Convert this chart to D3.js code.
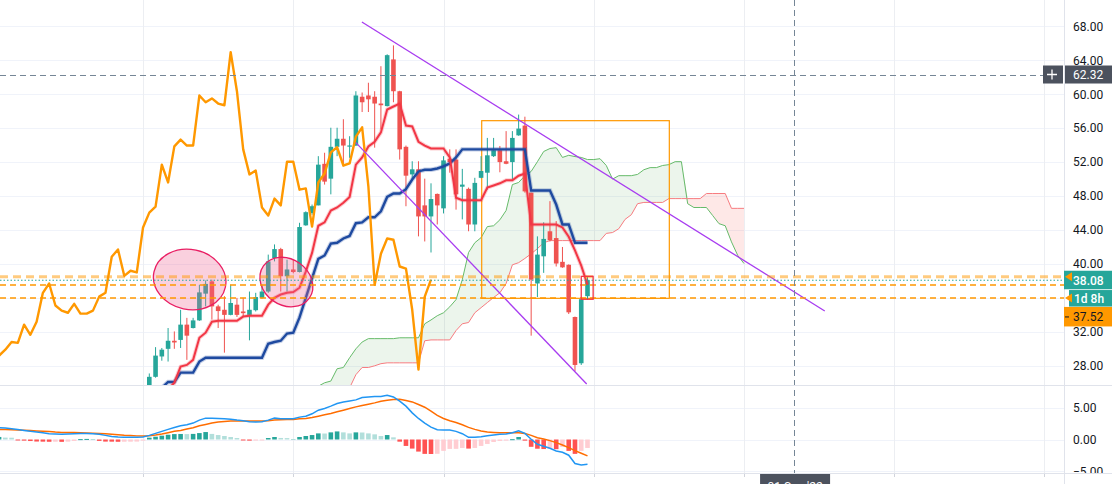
<!DOCTYPE html>
<html>
<head>
<meta charset="UTF-8" />
<title>ichimoku</title>
<style>
  body { margin: 0; padding: 0; background: #ffffff; overflow: hidden; }
  svg { display: block; font-family: Roboto, 'Liberation Sans', sans-serif; }
</style>
</head>
<body>
<div class="chart"></div>
<script src="https://cdnjs.cloudflare.com/ajax/libs/d3/7.8.5/d3.min.js"></script>
<script>
// candles, one per bar starting at bar 0
const opens = [25.2, 26.7, 29.1, 30.0, 30.95, 31.05, 32.85, 32.45, 33.35, 36.5,
  37.95, 35.0, 34.6, 34.0, 35.2, 34.4, 34.0, 34.55, 36.0, 36.75,
  40.7, 41.75, 38.55, 39.35, 39.05, 44.55, 46.0, 46.9, 51.8, 50.05,
  53.8, 54.75, 53.88, 53.95, 59.7, 59.85, 59.7, 58.9, 58.6, 64.1,
  60.35, 53.8, 50.55, 51.15, 46.9, 45.6, 48.25, 46.55, 52.4, 52.3,
  49.1, 48.85, 44.65, 50.15, 50.75, 52.7, 53.4, 52.1, 52.0, 55.15,
  56.3, 48.4, 37.7, 40.9, 43.85, 43.05, 40.25, 39.9, 33.75, 28.3, 36.2]
const highs = [27.1, 30.2, 30.1, 32.45, 32.05, 34.6, 33.65, 33.65, 37.55, 38.05,
  38.15, 35.2, 36.2, 37.55, 36.0, 36.0, 36.75, 36.6, 37.55, 41.1,
  42.3, 41.9, 40.5, 40.5, 44.85, 46.2, 47.0, 52.7, 53.1, 56.05,
  56.05, 57.05, 55.05, 60.35, 60.2, 61.35, 60.35, 63.3, 64.7, 65.75,
  60.4, 53.95, 52.1, 52.1, 50.05, 49.5, 48.3, 52.7, 53.5, 53.5,
  51.2, 49.0, 50.15, 52.7, 54.85, 54.85, 53.9, 55.65, 55.65, 57.6,
  57.35, 48.4, 43.25, 44.9, 47.4, 45.05, 42.0, 39.95, 33.8, 35.9, 38.55]
const lows = [24.8, 26.6, 28.6, 28.5, 30.0, 30.1, 28.7, 32.4, 33.3, 35.0,
  33.45, 32.45, 29.55, 33.95, 33.75, 33.75, 31.0, 34.4, 35.9, 36.6,
  40.3, 36.75, 36.75, 38.9, 39.0, 44.5, 45.8, 46.9, 49.35, 48.2,
  52.7, 51.5, 52.5, 53.9, 57.9, 57.9, 53.7, 55.85, 58.55, 59.05,
  52.3, 46.8, 49.95, 43.25, 42.65, 41.35, 44.65, 45.95, 50.75, 46.4,
  45.25, 43.85, 43.85, 50.1, 48.75, 52.6, 50.8, 51.75, 49.95, 55.1,
  48.4, 31.55, 36.1, 38.95, 42.65, 39.7, 39.55, 34.1, 27.35, 28.1, 35.8]
const closes = [26.7, 29.2, 29.9, 30.95, 30.75, 32.85, 31.55, 33.35, 36.65, 37.65,
  35.0, 34.45, 34.0, 35.4, 34.0, 34.2, 34.6, 36.1, 36.75, 40.3,
  41.75, 38.55, 39.35, 39.05, 44.35, 46.1, 46.8, 51.7, 49.7, 53.8,
  54.75, 53.95, 53.96, 59.85, 59.05, 59.4, 58.9, 58.7, 64.6, 60.35,
  53.5, 50.4, 51.15, 45.6, 45.6, 47.65, 46.9, 52.2, 52.0, 48.2,
  49.35, 44.65, 49.55, 50.95, 52.8, 53.4, 52.0, 51.8, 54.85, 55.95,
  48.55, 38.15, 41.1, 42.95, 42.8, 40.05, 39.6, 34.3, 28.1, 35.85, 38.08]

// ichimoku base / conversion lines, bar 0..70
const kijun = [null, null, 25.4, 26.1, 26.1, 27.2, 27.2, 27.2, 28.5, 28.95,
  28.95, 28.95, 28.95, 28.95, 28.95, 28.95, 28.95, 28.95, 28.95, 30.6,
  30.8, 30.95, 31.8, 31.9, 33.7, 36.0, 38.3, 40.6, 41.0, 42.4,
  42.5, 43.0, 43.3, 44.8, 44.9, 45.5, 45.5, 46.2, 47.9, 48.3,
  48.3, 48.8, 49.95, 50.9, 51.1, 51.1, 51.25, 51.5, 51.85, 52.55,
  53.5, 53.5, 53.5, 53.5, 53.5, 53.5, 53.5, 53.5, 53.5, 53.5,
  53.5, 48.65, 48.65, 48.65, 48.65, 47.0, 44.65, 44.65, 42.5, 42.5, 42.5]
const tenkan = [null, null, null, 25.2, 26.0, 27.9, 28.1, 28.7, 31.3, 31.9,
  33.2, 33.3, 33.3, 33.3, 33.3, 33.8, 33.9, 33.9, 33.9, 35.2,
  36.0, 36.4, 36.6, 36.7, 37.2, 39.1, 41.3, 44.5, 44.9, 46.3,
  46.65, 47.2, 47.9, 51.7, 52.55, 53.85, 54.4, 55.5, 58.2, 58.55,
  58.9, 56.3, 56.2, 54.4, 53.95, 53.6, 53.6, 53.6, 52.55, 47.8,
  47.5, 47.5, 47.5, 47.5, 49.0, 49.25, 49.5, 49.85, 49.85, 50.4,
  50.65, 44.65, 44.65, 44.65, 44.65, 44.65, 44.3, 43.2, 41.6, 39.8, 37.55]

// leading spans, plotted from bar 27 to bar 95
const spanStart = 27
const spanA = [25.6, 26.0, 26.2, 27.65, 27.8, 28.95, 30.0, 30.8, 31.2, 31.2,
  31.2, 31.2, 31.2, 31.3, 31.3, 31.3, 31.3, 32.95, 33.4, 33.9,
  34.25, 34.95, 35.8, 38.15, 41.35, 42.5, 43.1, 44.4, 44.5, 45.2,
  46.3, 49.35, 49.6, 50.4, 50.9, 52.05, 53.25, 53.6, 53.7, 52.55,
  52.8, 52.65, 52.55, 52.3, 52.3, 52.4, 51.6, 50.0, 50.4, 50.4,
  50.4, 50.55, 51.1, 51.35, 51.35, 51.6, 51.7, 52.05, 52.05, 47.1,
  46.65, 46.65, 46.65, 45.7, 44.75, 44.5, 42.6, 41.0, 40.05]
const spanB = [24.9, 24.9, 24.9, 24.9, 24.9, 25.4, 26.95, 27.8, 27.8, 28.0,
  28.25, 28.35, 28.35, 28.35, 28.35, 28.35, 28.35, 30.95, 31.05, 31.05,
  31.05, 31.05, 32.15, 32.95, 33.1, 34.25, 34.85, 35.45, 36.05, 36.6,
  37.7, 39.9, 40.15, 40.65, 41.2, 41.8, 42.5, 42.75, 42.75, 42.75,
  42.75, 42.75, 42.75, 42.75, 42.75, 42.75, 43.6, 43.7, 44.15, 45.25,
  45.8, 47.1, 47.25, 47.25, 47.25, 47.25, 47.7, 47.7, 47.7, 47.7,
  47.7, 47.7, 48.3, 48.3, 48.3, 48.3, 46.55, 46.55, 46.55]

// orange comparison line, bar -24..45
const overlayStart = -24
const overlay = [29.2, 29.9, 30.8, 30.7, 32.85, 31.65, 33.2, 36.6, 37.7, 35.1,
  34.5, 34.25, 35.3, 34.15, 34.15, 34.5, 36.15, 36.6, 40.85, 41.7,
  38.6, 39.2, 39.0, 44.3, 46.05, 46.75, 51.7, 49.6, 53.85, 54.65,
  53.95, 53.95, 59.85, 59.05, 59.5, 58.9, 58.7, 64.95, 60.35, 53.5,
  50.55, 51.0, 46.65, 45.7, 47.7, 46.9, 52.05, 52.05, 48.75, 48.9,
  44.4, 49.6, 50.65, 53.15, 53.75, 51.6, 51.85, 55.0, 56.1, 49.1,
  37.55, 41.2, 43.0, 42.85, 39.7, 39.45, 34.6, 27.55, 36.15, 38.15]

// MACD pane, bar -24..70
const macdStart = -24
const macdHist = [0.40, 0.30, 0.28, -0.08, -0.18, -0.24, -0.32, -0.34, -0.36, -0.35,
  -0.37, -0.34, -0.23, 0.06, 0.09, 0.07, -0.22, -0.33, -0.34, -0.36,
  -0.35, -0.34, -0.33, -0.18, 0.29, 0.44, 0.60, 0.75, 0.85, 0.87,
  0.85, 0.88, 1.01, 1.17, 0.88, 0.70, 0.55, 0.39, 0.23, -0.08,
  -0.18, -0.17, -0.16, 0.23, 0.39, 0.24, 0.22, 0.08, 0.39, 0.55,
  0.70, 0.96, 0.94, 1.12, 1.27, 1.12, 0.96, 1.12, 1.10, 0.96,
  0.81, 0.55, 0.70, 0.34, -0.34, -1.01, -1.43, -1.90, -2.26, -2.28,
  -2.25, -1.79, -1.48, -1.47, -1.33, -1.43, -1.33, -1.01, -0.70, -0.39,
  -0.23, -0.18, 0.05, 0.39, -0.18, -1.15, -1.45, -1.50, -1.47, -1.52,
  -1.17, -1.79, -2.26, -1.79, -1.33]
const macdLine = [1.85, 1.80, 1.69, 1.59, 1.43, 1.28, 1.17, 1.07, 0.91, 0.86,
  0.81, 0.86, 0.91, 0.96, 0.96, 0.91, 0.81, 0.65, 0.49, 0.39,
  0.34, 0.34, 0.34, 0.39, 0.65, 0.96, 1.28, 1.59, 1.90, 2.16,
  2.32, 2.58, 3.05, 3.36, 3.36, 3.31, 3.26, 3.20, 3.05, 2.94,
  2.79, 2.74, 2.79, 3.05, 3.36, 3.26, 3.26, 3.26, 3.52, 3.67,
  4.04, 4.61, 4.87, 5.24, 5.65, 5.91, 6.07, 6.23, 6.59, 6.69,
  6.75, 6.75, 6.96, 6.69, 6.02, 5.24, 4.19, 3.31, 2.58, 1.95,
  1.54, 1.48, 1.48, 1.28, 0.91, 0.34, 0.34, 0.44, 0.60, 0.70,
  0.81, 0.86, 1.07, 1.38, 0.96, 0.03, -0.76, -1.07, -1.38, -1.80,
  -2.00, -2.47, -3.78, -3.99, -3.88]
const macdSignal = [1.59, 1.56, 1.54, 1.49, 1.46, 1.41, 1.35, 1.30, 1.25, 1.17,
  1.12, 1.09, 1.09, 1.07, 1.04, 0.99, 0.96, 0.91, 0.83, 0.76,
  0.68, 0.63, 0.57, 0.55, 0.60, 0.70, 0.86, 1.07, 1.28, 1.43,
  1.64, 1.85, 2.16, 2.37, 2.58, 2.74, 2.84, 2.89, 2.89, 2.89,
  2.89, 2.89, 2.92, 2.94, 3.05, 3.10, 3.13, 3.15, 3.26, 3.31,
  3.46, 3.67, 3.88, 4.09, 4.35, 4.61, 4.87, 5.13, 5.34, 5.55,
  5.76, 6.02, 6.17, 6.28, 6.33, 6.12, 5.91, 5.50, 5.08, 4.45,
  3.78, 3.31, 2.94, 2.68, 2.32, 1.90, 1.59, 1.33, 1.17, 1.12,
  1.07, 1.07, 1.07, 1.07, 0.96, 0.65, 0.29, 0.08, -0.18, -0.49,
  -0.86, -1.28, -1.75, -2.16, -2.58]

// axes and annotations
const priceTicks = [68, 64, 60, 56, 52, 48, 44, 40, 36, 32, 28]
const macdTicks = [5, 0, -5]
const gridBars = [-1, 23, 47, 71, 95, 119, 143]
const crossBar = 103
const crossPrice = 62.32
const crossDate = "01 Sep '22"
const lastPrice = 38.08
const avgPrice = 37.52
const alertLevels = [38.5, 36.0]
const countdown = '1d 8h'
const trendLines = [[[33.96, 68.51], [107.9, 34.46]], [[33.0, 54.29], [69.87, 25.86]]]
const rangeBox = [[53.1, 56.88], [83.07, 35.95]]
const markBox = [[69.0, 38.54], [70.9, 35.84]]
const circles = [[6.45, 38.17], [21.9, 37.87]]

// ---- layout ----
const W = 1112, H = 484
const axisX = 1064
const paneBottom = 385, macdTop = 386, macdBottom = 473

const x = d3.scaleLinear().domain([0, 70]).range([149.3, 587.5])
const y = d3.scaleLinear().domain([28, 68]).range([365.8, 26.3])
const ym = d3.scaleLinear().domain([-5, 5]).range([471.3, 407.7])

const svg = d3.select('.chart').append('svg')
  .attr('width', W).attr('height', H)

const defs = svg.append('defs')
defs.append('clipPath').attr('id', 'pricePane')
  .append('rect').attr('x', 0).attr('y', 0).attr('width', axisX).attr('height', paneBottom)
defs.append('clipPath').attr('id', 'macdPane')
  .append('rect').attr('x', 0).attr('y', macdTop).attr('width', axisX).attr('height', macdBottom - macdTop)

// grid
const grid = svg.append('g').attr('shape-rendering', 'crispEdges')
grid.selectAll('.hg').data(priceTicks).join('line')
  .attr('x1', 0).attr('x2', axisX)
  .attr('y1', d => Math.round(y(d)) + 0.5).attr('y2', d => Math.round(y(d)) + 0.5)
  .attr('stroke', '#f0f3fa')
grid.selectAll('.mg').data(macdTicks).join('line')
  .attr('x1', 0).attr('x2', axisX)
  .attr('y1', d => Math.round(ym(d)) + 0.5).attr('y2', d => Math.round(ym(d)) + 0.5)
  .attr('stroke', '#f0f3fa')
grid.selectAll('.vg').data(gridBars).join('line')
  .attr('x1', d => Math.round(x(d)) + 0.5).attr('x2', d => Math.round(x(d)) + 0.5)
  .attr('y1', 0).attr('y2', 477)
  .attr('stroke', '#eceef2')

// ---- price pane ----
const pane = svg.append('g').attr('clip-path', 'url(#pricePane)')

const cloud = d3.range(spanA.length).map(k => ({ i: spanStart + k, a: spanA[k], b: spanB[k] }))
pane.append('path').datum(cloud)
  .attr('fill', 'rgba(67,160,71,0.1)')
  .attr('d', d3.area().x(d => x(d.i)).y0(d => y(d.b)).y1(d => y(Math.max(d.a, d.b))))
pane.append('path').datum(cloud)
  .attr('fill', 'rgba(244,67,54,0.12)')
  .attr('d', d3.area().x(d => x(d.i)).y0(d => y(d.a)).y1(d => y(Math.max(d.a, d.b))))
pane.append('path').datum(cloud)
  .attr('fill', 'none').attr('stroke', '#66bb6a').attr('stroke-width', 1)
  .attr('d', d3.line().x(d => x(d.i)).y(d => y(d.a)))
pane.append('path').datum(cloud)
  .attr('fill', 'none').attr('stroke', '#f77c80').attr('stroke-width', 1)
  .attr('d', d3.line().x(d => x(d.i)).y(d => y(d.b)))

// range box
pane.append('rect')
  .attr('x', x(rangeBox[0][0])).attr('y', y(rangeBox[0][1]))
  .attr('width', x(rangeBox[1][0]) - x(rangeBox[0][0]))
  .attr('height', y(rangeBox[1][1]) - y(rangeBox[0][1]))
  .attr('fill', 'none').attr('stroke', '#ff9800').attr('stroke-width', 1.2)

// candles
const bars = d3.range(opens.length)
const upColor = '#26a69a', downColor = '#ef5350'
const candle = pane.append('g')
candle.selectAll('line').data(bars).join('line')
  .attr('x1', i => x(i)).attr('x2', i => x(i))
  .attr('y1', i => y(highs[i])).attr('y2', i => y(lows[i]))
  .attr('stroke', i => closes[i] >= opens[i] ? upColor : downColor)
  .attr('stroke-width', 1)
candle.selectAll('rect').data(bars).join('rect')
  .attr('x', i => x(i) - 2.3).attr('width', 4.6)
  .attr('y', i => y(Math.max(opens[i], closes[i])))
  .attr('height', i => Math.max(1.2, Math.abs(y(opens[i]) - y(closes[i]))))
  .attr('fill', i => closes[i] >= opens[i] ? upColor : downColor)

// kijun / tenkan
const lineOf = arr => d3.line().defined(d => d != null).x((d, i) => x(i)).y(d => y(d))(arr)
pane.append('path').attr('d', lineOf(kijun))
  .attr('fill', 'none').attr('stroke', 'rgba(33,72,160,0.25)').attr('stroke-width', 4.5)
pane.append('path').attr('d', lineOf(kijun))
  .attr('fill', 'none').attr('stroke', '#1e4aa0').attr('stroke-width', 2.4)
pane.append('path').attr('d', lineOf(tenkan))
  .attr('fill', 'none').attr('stroke', 'rgba(242,54,69,0.25)').attr('stroke-width', 4)
pane.append('path').attr('d', lineOf(tenkan))
  .attr('fill', 'none').attr('stroke', '#f23645').attr('stroke-width', 2)

// orange comparison line
pane.append('path')
  .attr('d', d3.line().x((d, k) => x(overlayStart + k)).y(d => y(d))(overlay))
  .attr('fill', 'none').attr('stroke', '#ff9800').attr('stroke-width', 2.4)
  .attr('stroke-linejoin', 'round')

// highlighted zones
const ellipseShapes = [{ rx: 36.5, ry: 30, rot: 12 }, { rx: 28, ry: 23, rot: 35 }]
pane.selectAll('.zone').data(circles).join('ellipse')
  .attr('cx', 0).attr('cy', 0)
  .attr('rx', (d, k) => ellipseShapes[k].rx).attr('ry', (d, k) => ellipseShapes[k].ry)
  .attr('transform', (d, k) => `translate(${x(d[0])},${y(d[1])}) rotate(${ellipseShapes[k].rot})`)
  .attr('fill', 'rgba(240,98,146,0.3)').attr('stroke', '#e91e63').attr('stroke-width', 1.3)

// trend lines
pane.selectAll('.trend').data(trendLines).join('line')
  .attr('x1', d => x(d[0][0])).attr('y1', d => y(d[0][1]))
  .attr('x2', d => x(d[1][0])).attr('y2', d => y(d[1][1]))
  .attr('stroke', '#a83cf0').attr('stroke-width', 1.3)

// horizontal levels
pane.append('line').attr('x1', 0).attr('x2', axisX)
  .attr('y1', y(alertLevels[0])).attr('y2', y(alertLevels[0]))
  .attr('stroke', 'rgba(255,152,0,0.5)').attr('stroke-width', 3).attr('stroke-dasharray', '8,5')
pane.append('line').attr('x1', 0).attr('x2', axisX)
  .attr('y1', y(lastPrice)).attr('y2', y(lastPrice))
  .attr('stroke', upColor).attr('stroke-width', 1).attr('stroke-dasharray', '1.5,2')
pane.append('line').attr('x1', 0).attr('x2', axisX)
  .attr('y1', y(avgPrice)).attr('y2', y(avgPrice))
  .attr('stroke', '#ff9800').attr('stroke-width', 1.5).attr('stroke-dasharray', '6,4')
pane.append('line').attr('x1', 0).attr('x2', axisX)
  .attr('y1', y(alertLevels[1])).attr('y2', y(alertLevels[1]))
  .attr('stroke', '#ff9800').attr('stroke-width', 1.5).attr('stroke-dasharray', '6,4')

// small mark box on the last bars
pane.append('rect')
  .attr('x', x(markBox[0][0])).attr('y', y(markBox[0][1]))
  .attr('width', x(markBox[1][0]) - x(markBox[0][0]))
  .attr('height', y(markBox[1][1]) - y(markBox[0][1]))
  .attr('fill', 'none').attr('stroke', '#f23645').attr('stroke-width', 1.3)

// ---- MACD pane ----
const macd = svg.append('g').attr('clip-path', 'url(#macdPane)')
const hx = k => x(macdStart + k)
macd.selectAll('rect').data(macdHist).join('rect')
  .attr('x', (d, k) => hx(k) - 2.3).attr('width', 4.6)
  .attr('y', d => Math.min(ym(d), ym(0)))
  .attr('height', d => Math.max(1, Math.abs(ym(d) - ym(0))))
  .attr('fill', (d, k) => {
    const prev = k > 0 ? macdHist[k - 1] : -Infinity
    if (d >= 0) return d > prev ? '#26a69a' : '#b2dfdb'
    return d < prev ? '#ff5252' : '#ffcdd2'
  })
macd.append('path')
  .attr('d', d3.line().x((d, k) => hx(k)).y(d => ym(d))(macdSignal))
  .attr('fill', 'none').attr('stroke', '#ff6d00').attr('stroke-width', 1.5)
macd.append('path')
  .attr('d', d3.line().x((d, k) => hx(k)).y(d => ym(d))(macdLine))
  .attr('fill', 'none').attr('stroke', '#2196f3').attr('stroke-width', 1.5)

// crosshair
svg.append('line').attr('x1', 0).attr('x2', 1043)
  .attr('y1', Math.round(y(crossPrice)) + 0.5).attr('y2', Math.round(y(crossPrice)) + 0.5)
  .attr('stroke', '#758696').attr('stroke-width', 1).attr('stroke-dasharray', '6,4')
svg.append('line').attr('x1', Math.round(x(crossBar)) + 0.5).attr('x2', Math.round(x(crossBar)) + 0.5)
  .attr('y1', 0).attr('y2', macdBottom)
  .attr('stroke', '#758696').attr('stroke-width', 1).attr('stroke-dasharray', '6,4')

// ---- axes ----
const axisFont = g => g.attr('font-size', 12).attr('font-family', "Roboto, 'Liberation Sans', sans-serif")
svg.append('g').attr('transform', `translate(${axisX},0)`)
  .call(d3.axisRight(y).tickValues(priceTicks).tickFormat(d3.format('.2f')).tickSize(0).tickPadding(9))
  .call(axisFont)
  .call(g => g.select('.domain').remove())
  .selectAll('text').attr('fill', '#131722')
svg.append('g').attr('transform', `translate(${axisX},0)`)
  .call(d3.axisRight(ym).tickValues(macdTicks).tickFormat(d3.format('.2f')).tickSize(0).tickPadding(9))
  .call(axisFont)
  .call(g => g.select('.domain').remove())
  .selectAll('text').attr('fill', '#131722')

// time axis strip
svg.append('rect').attr('x', 0).attr('y', macdBottom).attr('width', W).attr('height', H - macdBottom)
  .attr('fill', '#ffffff')
svg.append('g').attr('shape-rendering', 'crispEdges').selectAll('line').data(gridBars).join('line')
  .attr('x1', d => Math.round(x(d)) + 0.5).attr('x2', d => Math.round(x(d)) + 0.5)
  .attr('y1', macdBottom).attr('y2', macdBottom + 4).attr('stroke', '#d1d4dc')

// borders
const borders = svg.append('g').attr('shape-rendering', 'crispEdges').attr('stroke', '#e0e3eb')
borders.append('line').attr('x1', 0).attr('x2', W).attr('y1', paneBottom + 0.5).attr('y2', paneBottom + 0.5)
borders.append('line').attr('x1', 0).attr('x2', W).attr('y1', macdBottom + 0.5).attr('y2', macdBottom + 0.5)
borders.append('line').attr('x1', axisX + 0.5).attr('x2', axisX + 0.5).attr('y1', 0).attr('y2', H)

// price labels on the axis
const labelFont = "Roboto, 'Liberation Sans', sans-serif"
const crossY = y(crossPrice)
svg.append('rect').attr('x', 1043).attr('y', crossY - 9).attr('width', 20).attr('height', 18).attr('fill', '#4c525e')
svg.append('path').attr('d', `M1047,${crossY}h10M1052,${crossY - 5}v10`).attr('stroke', '#ffffff').attr('stroke-width', 1.3)
svg.append('rect').attr('x', axisX + 1).attr('y', crossY - 9).attr('width', W - axisX).attr('height', 18).attr('fill', '#4c525e')
svg.append('text').attr('x', 1073).attr('y', crossY + 4.5).text(d3.format('.2f')(crossPrice))
  .attr('fill', '#ffffff').attr('font-size', 12).attr('font-family', labelFont)

const lastY = y(lastPrice)
svg.append('rect').attr('x', axisX).attr('y', lastY - 9.5).attr('width', W - axisX).attr('height', 18.5).attr('fill', upColor)
svg.append('text').attr('x', 1073).attr('y', lastY + 4.5).text(d3.format('.2f')(lastPrice))
  .attr('fill', '#ffffff').attr('font-size', 12).attr('font-weight', 500).attr('font-family', labelFont)
svg.append('rect').attr('x', 1069).attr('y', lastY + 9.8).attr('width', W - 1069).attr('height', 16.5).attr('fill', upColor)
svg.append('text').attr('x', 1074).attr('y', lastY + 22.5).text(countdown)
  .attr('fill', '#ffffff').attr('font-size', 12).attr('font-weight', 500).attr('font-family', labelFont)

const avgTop = lastY + 26.7
svg.append('rect').attr('x', axisX).attr('y', avgTop).attr('width', W - axisX).attr('height', 19.5).attr('fill', '#ff9800')
svg.append('line').attr('x1', axisX + 1).attr('x2', axisX + 5).attr('y1', avgTop + 10).attr('y2', avgTop + 10)
  .attr('stroke', '#131722').attr('stroke-width', 1)
svg.append('text').attr('x', 1073).attr('y', avgTop + 14).text(d3.format('.2f')(avgPrice))
  .attr('fill', '#131722').attr('font-size', 12).attr('font-family', labelFont)

// alert markers
svg.selectAll('.alert').data(alertLevels).join('path')
  .attr('d', d => `M${axisX + 1},${y(d)}L${axisX + 8},${y(d) - 4.5}L${axisX + 8},${y(d) + 4.5}Z`)
  .attr('fill', '#ff9800')

// crosshair date label
const cx = x(crossBar)
svg.append('rect').attr('x', cx - 34).attr('y', macdBottom + 1).attr('width', 70).attr('height', 22).attr('fill', '#4c525e')
svg.append('text').attr('x', cx + 1).attr('y', 491).attr('text-anchor', 'middle').text(crossDate)
  .attr('fill', '#ffffff').attr('font-size', 12).attr('font-family', labelFont)
</script>
</body>
</html>
